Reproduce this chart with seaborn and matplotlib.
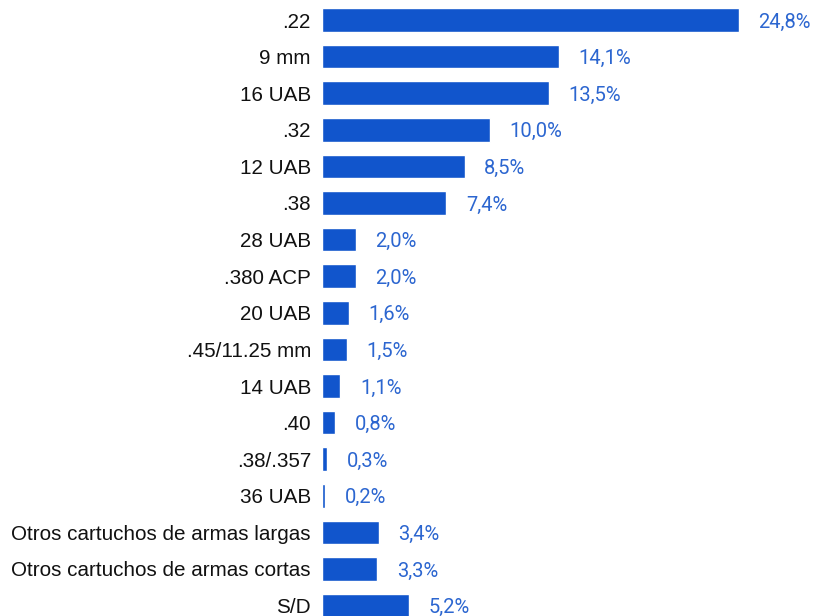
import matplotlib
matplotlib.use("Agg")
import matplotlib.pyplot as plt
import seaborn as sns
import pandas as pd

categories = [".22", "9 mm", "16 UAB", ".32", "12 UAB", ".38", "28 UAB", ".380 ACP",
              "20 UAB", ".45/11.25 mm", "14 UAB", ".40", ".38/.357", "36 UAB",
              "Otros cartuchos de armas largas", "Otros cartuchos de armas cortas", "S/D"]
values = [24.8, 14.1, 13.5, 10.0, 8.5, 7.4, 2.0, 2.0, 1.6, 1.5, 1.1, 0.8, 0.3, 0.2, 3.4, 3.3, 5.2]

df = pd.DataFrame({"calibre": categories, "pct": values})

sns.set_style("white")
plt.rcParams['font.family'] = ['Liberation Sans', 'DejaVu Sans']

fig = plt.figure(figsize=(8.13, 6.16), dpi=100)
ax = fig.add_axes([322 / 813, 0, 1 - 322 / 813, 1])

sns.barplot(data=df, x="pct", y="calibre", color="#1155CC", saturation=1,
            width=0.64, ax=ax)

ax.set_xlim(0, (813 - 322) / 16.8)
ax.set_ylim((616 - 20) / 36.6, -20 / 36.6)

for i, v in enumerate(values):
    ax.annotate(f"{v:.1f}%".replace(".", ","), (v, i), xytext=(14, -1.5),
                textcoords="offset points", va="center", ha="left",
                fontsize=14.5, color="#2C66D0", family=["Roboto", "DejaVu Sans"])

ax.set_xlabel("")
ax.set_ylabel("")
ax.set_xticks([])
ax.tick_params(axis="y", length=0, pad=8, labelsize=14.9, labelcolor="#111111")
sns.despine(ax=ax, left=True, bottom=True)

fig.savefig("out.png", dpi=100)
